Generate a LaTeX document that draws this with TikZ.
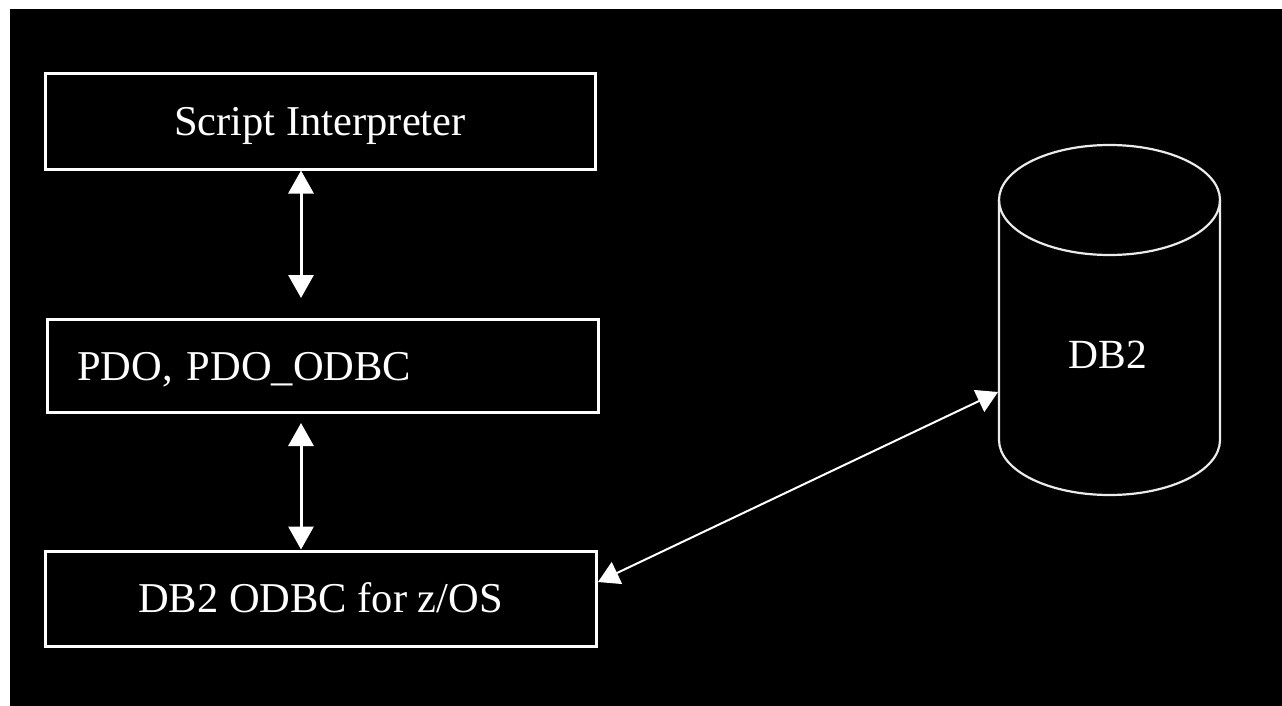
\documentclass[tikz,border=0pt]{standalone}
\usepackage{fontspec}
\setmainfont{Liberation Serif}
\usetikzlibrary{arrows.meta}
\tikzset{
  boxnode/.style={draw=white, line width=3pt, inner sep=0pt, text=white,
    text height=28pt, text depth=0pt, font=\fontsize{42.5}{50}\selectfont},
  arr/.style={white, line width=3pt, {Triangle[width=25pt,length=23pt]}-{Triangle[width=25pt,length=23pt]}},
  arrthin/.style={white, line width=2pt, {Triangle[width=24pt,length=21pt]}-{Triangle[width=24pt,length=21pt]}},
  cyl/.style={draw=white!92!black, line width=2.2pt}
}
\begin{document}
\begin{tikzpicture}[x=1pt,y=-1pt]
\useasboundingbox (0,0) rectangle (1282,706);
\fill[white] (0,0) rectangle (1282,706);
\fill[black] (10,9) rectangle (1282,706);
% boxes
\node[boxnode, minimum width=550pt, minimum height=95pt] (si) at (320,121.5) {Script Interpreter};
\node[boxnode, minimum width=551pt, minimum height=93pt, text width=491pt, inner xsep=30pt, align=left] (pdo) at (322.5,366) {PDO, PDO\_ODBC};
\node[boxnode, minimum width=551pt, minimum height=95pt] (odbc) at (320.5,598.5) {DB2 ODBC for z/OS};
% cylinder
\draw[cyl] (999,200) -- (999,440) arc[start angle=180, end angle=0, x radius=110.5, y radius=55] -- (1220,200);
\draw[cyl] (1109.5,200) ellipse[x radius=110.5, y radius=55];
\node[text=white, inner sep=0pt, text height=28pt, text depth=0pt, font=\fontsize{41.5}{50}\selectfont] (db2) at (1108,354.5) {DB2};
% connector end points
\coordinate (a1t) at (si.south -| 301,0);
\coordinate (a1b) at (301,298);
\coordinate (a2t) at (301,423);
\coordinate (a2b) at (odbc.north -| 301,0);
\coordinate (a3l) at (598,582);
\coordinate (a3r) at (998,392);
\draw[arr] (a1t) -- (a1b);
\draw[arr] (a2t) -- (a2b);
\draw[arrthin] (a3l) -- (a3r);
\end{tikzpicture}
\end{document}
